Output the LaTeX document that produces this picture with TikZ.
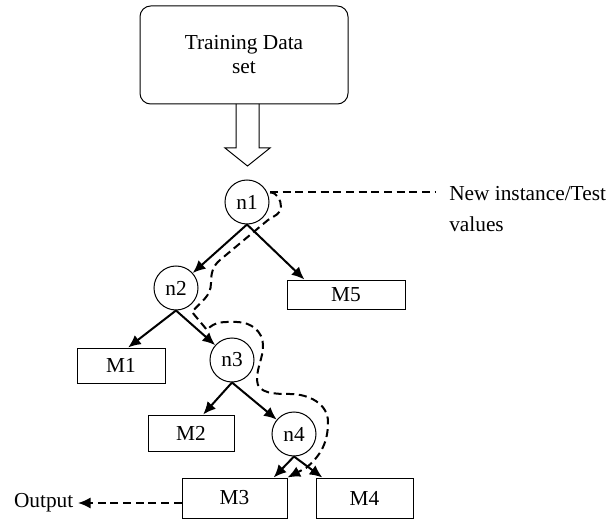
\documentclass[tikz,border=0pt]{standalone}
\usepackage{fontspec}
\setmainfont{Liberation Serif}
\usetikzlibrary{arrows.meta, calc}

\begin{document}
\begin{tikzpicture}[x=0.75pt, y=0.75pt, font=\fontsize{16}{18}\selectfont]
  \tikzstyle{fleche}=[->,>={Latex[length=9.5pt,width=8.5pt]},line width=1.5pt]
  \tikzstyle{tiret}=[line width=1.5pt,dash pattern=on 6pt off 3.5pt]
  \tikzstyle{chemin}=[fleche,tiret]
  \tikzstyle{noeud}=[draw,circle,line width=0.75pt,minimum size=33pt,inner sep=0pt]
  \tikzstyle{feuille}=[draw,rectangle,line width=0.75pt,inner sep=0pt]
  \useasboundingbox (0,0) rectangle (608,519);
  % training set and big arrow
  \node[draw, rounded corners=8pt, line width=0.75pt, minimum width=156pt,
    minimum height=73.5pt, align=center] (data) at (244,464) {Training Data\\set};
  \draw[line width=0.75pt] (236,415) -- (236,371) -- (225,371) -- (247.5,353)
    -- (270,371) -- (259,371) -- (259,415);
  % tree
  \node[noeud] (n1) at (247,317) {n1};
  \node[noeud] (n2) at (176,231) {n2};
  \node[noeud] (n3) at (232,159) {n3};
  \node[noeud] (n4) at (294,85) {n4};
  \node[feuille, minimum width=88.5pt, minimum height=21.75pt] (M5) at (346,224.5) {M5};
  \node[feuille, minimum width=66pt, minimum height=26.25pt] (M1) at (121,153.5) {M1};
  \node[feuille, minimum width=64.5pt, minimum height=27pt] (M2) at (191,86) {M2};
  \node[feuille, minimum width=78.75pt, minimum height=30pt] (M3) at (234.5,21) {M3};
  \node[feuille, minimum width=72.75pt, minimum height=30pt] (M4) at (364.5,21) {M4};
  \node[align=left, anchor=north west, inner sep=0pt] (newtest) at (449,333)
    {New instance/Test\\[5pt]values};
  \node[anchor=east] (out) at (78,16) {Output};
  \draw[fleche] (n1.south) -- (n2);
  \draw[fleche] (n1.south) -- ($(M5.north west)!0.15!(M5.north east)$);
  \draw[fleche] (n2.south) -- ($(M1.north west)!0.58!(M1.north east)$);
  \draw[fleche] (n2.south) -- (n3);
  \draw[fleche] (n3.south) -- ($(M2.north west)!0.64!(M2.north east)$);
  \draw[fleche] (n3.south) -- (n4);
  \draw[fleche] (n4.south) -- ($(M3.north west)!0.87!(M3.north east)$);
  \draw[fleche] (n4.south) -- ($(M4.north west)!0.07!(M4.north east)$);
  % path of the new instance
  \coordinate (q) at ([xshift=2pt]n1.25);
  \draw[tiret] (q) -- ($(q -| newtest.west)+(-14,0)$);
  \draw[chemin] (q) to[out=0,in=90] (281,312) to[out=-90,in=35] (268,299)
    -- (220,259) to[out=220,in=90] (211,236) to[out=-90,in=50] (192,207)
    -- (207,189) to[out=50,in=180] (237,197) to[out=0,in=90] (263,174)
    to[out=-90,in=90] (257,139) to[out=-90,in=180] (290,125)
    to[out=0,in=90] (328,97) to[out=-90,in=40] (306,51) -- (M3.north east);
  \draw[chemin] (out.east -| M3.west) -- (out.east);
\end{tikzpicture}
\end{document}
